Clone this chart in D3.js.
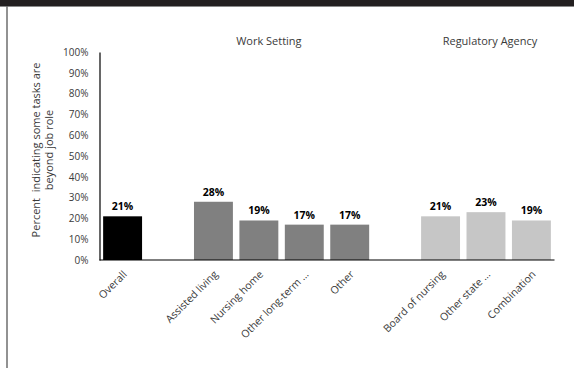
<!DOCTYPE html>
<html>
<head>
<meta charset="utf-8">
<script src="https://cdn.jsdelivr.net/npm/d3@7"></script>
<style>
  html, body { margin: 0; padding: 0; background: #fff; }
  svg { display: block; font-family: "Open Sans", Lato, sans-serif; }
</style>
</head>
<body>
<svg id="chart" width="574" height="368"></svg>
<script>
// Categories in display order; blank slots separate the groups.
const categories = ["Overall", "gap1", "Assisted living", "Nursing home", "Other long-term ...", "Other", "gap2", "Board of nursing", "Other state ...", "Combination"];
const values = [21, null, 28, 19, 17, 17, null, 21, 23, 19];
const groupOf = ["overall", null, "work", "work", "work", "work", null, "agency", "agency", "agency"];
const yTicks = [0, 10, 20, 30, 40, 50, 60, 70, 80, 90, 100];
const groupTitles = [
  { label: "Work Setting", from: "Assisted living", to: "Other long-term ..." },
  { label: "Regulatory Agency", from: "Board of nursing", to: "Combination" }
];
const yTitleLines = ["Percent  indicating some tasks are", "beyond job role"];

const fills = { overall: "#000000", work: "#808080", agency: "#c6c6c6" };
const textColor = "#3a3a3a";

const svg = d3.select("#chart");

// Frame: dark band on top, thin rule on the left
svg.append("rect").attr("x", 0).attr("y", 0).attr("width", 574).attr("height", 6).attr("fill", "#231f20");
svg.append("line").attr("x1", 0).attr("x2", 574).attr("y1", 6.5).attr("y2", 6.5).attr("stroke", "#8a8a8a").attr("stroke-width", 1);
svg.append("line").attr("x1", 7).attr("x2", 7).attr("y1", 6).attr("y2", 368).attr("stroke", "#6e6e6e").attr("stroke-width", 1.5);

const plotLeft = 99.5, plotRight = 554.5, plotTop = 52, plotBottom = 260;

const x = d3.scaleBand().domain(categories).range([plotLeft, plotRight]).paddingInner(0.143).paddingOuter(0.08);
const y = d3.scaleLinear().domain([0, 100]).range([plotBottom, plotTop]);

// Y axis
const yAxis = svg.append("g").attr("transform", `translate(${plotLeft},0)`)
  .call(d3.axisLeft(y).tickValues(yTicks).tickFormat(d => d + "%").tickSize(0).tickPadding(11));
yAxis.select(".domain").attr("stroke", "#000").attr("stroke-width", 1.2);
yAxis.selectAll("text").attr("font-size", 10).attr("fill", textColor).attr("font-family", "'Open Sans', sans-serif");

// Bars
const data = categories.map((c, i) => ({ c, v: values[i], g: groupOf[i] })).filter(d => d.v !== null);

svg.append("g").selectAll("rect").data(data).join("rect")
  .attr("x", d => x(d.c))
  .attr("y", d => y(d.v))
  .attr("width", x.bandwidth())
  .attr("height", d => y(0) - y(d.v))
  .attr("fill", d => fills[d.g]);

// Value labels
svg.append("g").selectAll("text").data(data).join("text")
  .attr("x", d => x(d.c) + x.bandwidth() / 2)
  .attr("y", d => y(d.v) - 6)
  .attr("text-anchor", "middle")
  .attr("font-size", 10.5)
  .attr("font-weight", "bold")
  .attr("fill", "#000")
  .text(d => d.v + "%");

// X axis baseline
svg.append("line").attr("x1", plotLeft).attr("x2", plotRight).attr("y1", plotBottom).attr("y2", plotBottom)
  .attr("stroke", "#000").attr("stroke-width", 1.2);

// Rotated category labels
svg.append("g").selectAll("text").data(data).join("text")
  .attr("transform", d => `translate(${x(d.c) + x.bandwidth() / 2 + 5},${plotBottom + 15}) rotate(-45)`)
  .attr("text-anchor", "end")
  .attr("font-size", 10.5)
  .attr("fill", textColor)
  .text(d => d.c);

// Group titles above the bars
svg.append("g").selectAll("text").data(groupTitles).join("text")
  .attr("x", d => (x(d.from) + x(d.to) + x.bandwidth()) / 2 + (d.to === "Combination" ? 4 : 10))
  .attr("y", 45)
  .attr("text-anchor", "middle")
  .attr("font-size", 11)
  .attr("fill", textColor)
  .text(d => d.label);

// Y axis title
const yTitle = svg.append("text")
  .attr("transform", `translate(40,${(plotTop + plotBottom) / 2 - 6}) rotate(-90)`)
  .attr("text-anchor", "middle")
  .attr("font-size", 11)
  .attr("fill", textColor)
  .style("white-space", "pre");
yTitle.selectAll("tspan").data(yTitleLines).join("tspan")
  .attr("x", 0)
  .attr("dy", (d, i) => i === 0 ? 0 : 12.5)
  .text(d => d);
</script>
</body>
</html>
